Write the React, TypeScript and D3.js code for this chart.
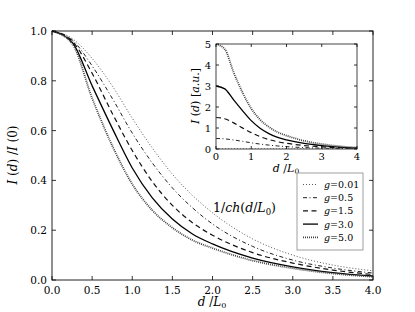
import React from 'react';
import * as d3 from 'd3';

const dValues = [0, 0.25, 0.5, 0.75, 1, 1.25, 1.5, 1.75, 2, 2.5, 3, 3.5, 4];

// I(d)/I(0) for each g
const ratioG001 = [1.0, 0.97, 0.89, 0.78, 0.65, 0.53, 0.425, 0.34, 0.27, 0.165, 0.1, 0.06, 0.037];
const ratioG05 = [1.0, 0.965, 0.86, 0.73, 0.59, 0.47, 0.37, 0.29, 0.225, 0.135, 0.08, 0.048, 0.028];
const ratioG15 = [1.0, 0.96, 0.83, 0.67, 0.52, 0.395, 0.3, 0.23, 0.18, 0.11, 0.068, 0.04, 0.022];
const ratioG30 = [1.0, 0.955, 0.78, 0.61, 0.45, 0.33, 0.245, 0.185, 0.145, 0.088, 0.053, 0.03, 0.016];
const ratioG50 = [1.0, 0.95, 0.73, 0.54, 0.385, 0.28, 0.21, 0.16, 0.128, 0.078, 0.047, 0.026, 0.013];

const gValues = [0.01, 0.5, 1.5, 3.0, 5.0];
const gLabels = ['0.01', '0.5', '1.5', '3.0', '5.0'];
const ratios = [ratioG001, ratioG05, ratioG15, ratioG30, ratioG50];

const mainXTicks = [0, 0.5, 1, 1.5, 2, 2.5, 3, 3.5, 4];
const mainYTicks = [0, 0.2, 0.4, 0.6, 0.8, 1.0];
const insetXTicks = [0, 1, 2, 3, 4];
const insetYTicks = [0, 1, 2, 3, 4, 5];

const styles = [
  { dash: '1,2', width: 0.9, color: '#444' },
  { dash: '4,2.5,1,2.5', width: 1, color: '#222' },
  { dash: '5,3.5', width: 1.2, color: '#111' },
  { dash: null, width: 1.3, color: '#000' },
  { dash: '1,1', width: 1.8, color: '#444' },
];

const FONT = 'DejaVu Serif';

function Ticks({ x, y, xt, yt, len }: any) {
  const [x0, x1] = x.range();
  const [y0, y1] = y.range();
  return (
    <g stroke="#000" strokeWidth={0.8}>
      {xt.map((t: number) => (
        <g key={'x' + t}>
          <line x1={x(t)} x2={x(t)} y1={y0} y2={y0 - len} />
          <line x1={x(t)} x2={x(t)} y1={y1} y2={y1 + len} />
        </g>
      ))}
      {yt.map((t: number) => (
        <g key={'y' + t}>
          <line x1={x0} x2={x0 + len} y1={y(t)} y2={y(t)} />
          <line x1={x1} x2={x1 - len} y1={y(t)} y2={y(t)} />
        </g>
      ))}
    </g>
  );
}

export default function App() {
  const x = d3.scaleLinear().domain([0, 4]).range([52, 373]);
  const y = d3.scaleLinear().domain([0, 1]).range([280, 31]);
  const xi = d3.scaleLinear().domain([0, 4]).range([216, 357]);
  const yi = d3.scaleLinear().domain([0, 5]).range([149, 44]);

  const line = d3
    .line<number>()
    .x((_, i) => x(dValues[i]))
    .y((v) => y(v))
    .curve(d3.curveMonotoneX);

  const insetLine = d3
    .line<number>()
    .x((_, i) => xi(dValues[i]))
    .y((v) => yi(v))
    .curve(d3.curveMonotoneX);

  const legendX = 297;
  const legendY = 173;
  const rowH = 13.2;

  return (
    <svg width={415} height={312} style={{ position: 'fixed', left: 0, top: 0, background: '#fff' }}
      fontFamily={FONT}>
      <defs>
        <clipPath id="insetClip">
          <rect x={216} y={44} width={141} height={105} />
        </clipPath>
      </defs>

      {/* main curves */}
      {ratios.map((r, k) => (
        <path key={k} d={line(r) || ''} fill="none" stroke={styles[k].color}
          strokeWidth={styles[k].width} strokeDasharray={styles[k].dash || undefined} />
      ))}

      <rect x={52} y={31} width={321} height={249} fill="none" stroke="#222" strokeWidth={1} />
      <Ticks x={x} y={y} xt={mainXTicks} yt={mainYTicks} len={4} />

      {mainXTicks.map((t) => (
        <text key={t} x={x(t)} y={294} fontSize={10.5} textAnchor="middle">{t.toFixed(1)}</text>
      ))}
      {mainYTicks.map((t) => (
        <text key={t} x={47} y={y(t) + 4} fontSize={10.5} textAnchor="end">{t.toFixed(1)}</text>
      ))}

      <text x={212} y={306} fontSize={12} textAnchor="middle">
        <tspan fontStyle="italic">d</tspan> /<tspan fontStyle="italic">L</tspan>
        <tspan fontSize={8} dy={2}>0</tspan>
      </text>
      <text transform="translate(17,155) rotate(-90)" fontSize={12} textAnchor="middle">
        <tspan fontStyle="italic">I</tspan> (<tspan fontStyle="italic">d</tspan>) /<tspan fontStyle="italic">I</tspan> (0)
      </text>

      <text x={213} y={212} fontSize={12.5}>
        1/<tspan fontStyle="italic">ch</tspan>(<tspan fontStyle="italic">d</tspan>/<tspan fontStyle="italic">L</tspan>
        <tspan fontSize={8.5} dy={3}>0</tspan><tspan dy={-3}>)</tspan>
      </text>

      {/* inset */}
      <rect x={216} y={44} width={141} height={105} fill="#fff" />
      <g clipPath="url(#insetClip)">
        {ratios.map((r, k) => (
          <path key={k} d={insetLine(r.map((v) => v * gValues[k])) || ''} fill="none"
            stroke={styles[k].color} strokeWidth={styles[k].width}
            strokeDasharray={styles[k].dash || undefined} />
        ))}
      </g>
      <rect x={216} y={44} width={141} height={105} fill="none" stroke="#444" strokeWidth={1} />
      <Ticks x={xi} y={yi} xt={insetXTicks} yt={insetYTicks} len={3} />
      {insetXTicks.map((t) => (
        <text key={t} x={xi(t)} y={160} fontSize={10} textAnchor="middle">{t}</text>
      ))}
      {insetYTicks.map((t) => (
        <text key={t} x={211} y={yi(t) + 4} fontSize={10} textAnchor="end">{t}</text>
      ))}
      <text x={286} y={172} fontSize={11} textAnchor="middle">
        <tspan fontStyle="italic">d</tspan> /<tspan fontStyle="italic">L</tspan>
        <tspan fontSize={7.5} dy={2}>0</tspan>
      </text>
      <text transform="translate(199,96) rotate(-90)" fontSize={11} textAnchor="middle">
        <tspan fontStyle="italic">I</tspan> (<tspan fontStyle="italic">d</tspan>)  [<tspan fontStyle="italic">a.u.</tspan>]
      </text>

      {/* legend */}
      <rect x={legendX} y={legendY} width={66} height={77} fill="#fff" stroke="#888" strokeWidth={0.8} />
      {gLabels.map((lab, k) => {
        const ry = legendY + 11.5 + k * rowH;
        return (
          <g key={lab}>
            <line x1={legendX + 6} x2={legendX + 21} y1={ry} y2={ry} stroke={styles[k].color}
              strokeWidth={styles[k].width} strokeDasharray={styles[k].dash || undefined} />
            <text x={legendX + 27} y={ry + 3.5} fontSize={9.5}>
              <tspan fontStyle="italic">g</tspan>=<tspan>{lab}</tspan>
            </text>
          </g>
        );
      })}
    </svg>
  );
}
